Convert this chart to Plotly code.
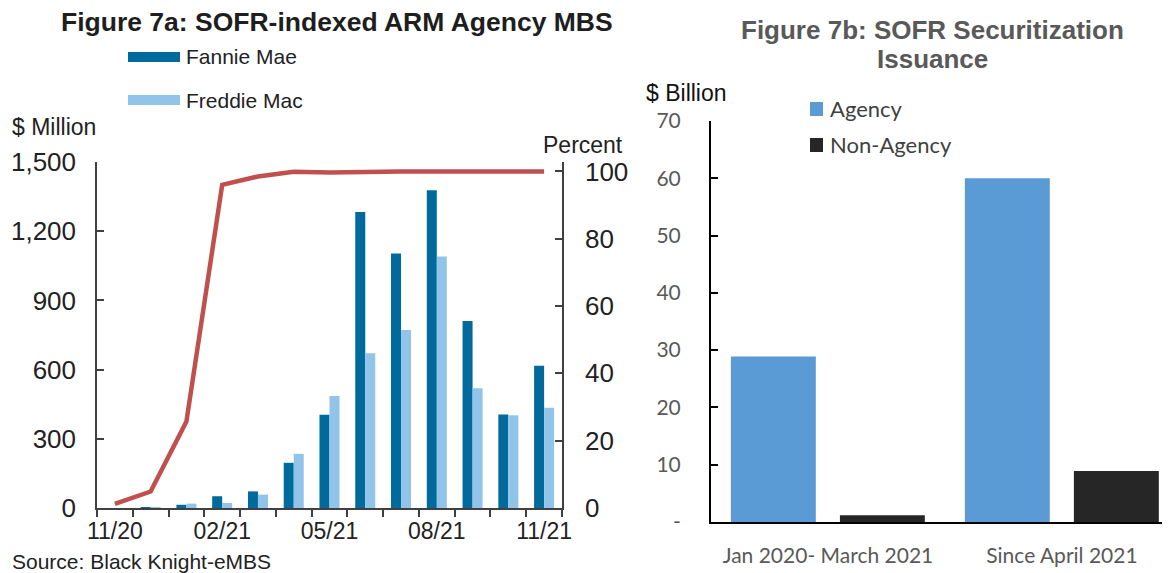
import plotly.graph_objects as go

# Figure 7a data
months = ["11/20", "12/20", "01/21", "02/21", "03/21", "04/21", "05/21",
          "06/21", "07/21", "08/21", "09/21", "10/21", "11/21"]
month_labels = ["11/20", "", "", "02/21", "", "", "05/21", "", "", "08/21", "", "", "11/21"]
fannie_mae = [0, 3, 14, 51, 72, 196, 404, 1283, 1103, 1378, 811, 405, 617]
freddie_mac = [0, 1, 19, 22, 58, 235, 486, 671, 772, 1090, 519, 402, 435]
sofr_share = [1.2, 4.9, 25.7, 96.0, 98.5, 99.9, 99.7, 100, 100, 100, 100, 100, 100]

# Figure 7b data
periods = ["Jan 2020- March 2021", "Since April 2021"]
agency = [28.9, 60.0]
non_agency = [1.2, 8.9]

W, H = 1170, 573
OFF = 8  # page body margin of the html page
ARIAL = "Liberation Sans, Arial, sans-serif"
CALIBRI = "Lato, Carlito, Calibri, sans-serif"

def px(x):
    return (x - OFF) / W

def py(y):
    return 1 - (y - OFF) / H

fig = go.Figure()

fig.add_trace(go.Bar(x=months, y=fannie_mae, name="Fannie Mae",
                     marker=dict(color="#006A9C", line_width=0), xaxis="x", yaxis="y"))
fig.add_trace(go.Bar(x=months, y=freddie_mac, name="Freddie Mac",
                     marker=dict(color="#92C4E9", line_width=0), xaxis="x", yaxis="y"))
fig.add_trace(go.Scatter(x=months, y=sofr_share, mode="lines", name="Percent",
                         line=dict(color="#C0504D", width=4.5), xaxis="x", yaxis="y2"))

fig.add_trace(go.Bar(x=periods, y=agency, name="Agency", width=0.363, offset=-0.415,
                     marker=dict(color="#5B9BD5", line_width=0), xaxis="x3", yaxis="y3"))
fig.add_trace(go.Bar(x=periods, y=non_agency, name="Non-Agency", width=0.363, offset=0.051,
                     marker=dict(color="#262626", line_width=0), xaxis="x3", yaxis="y3"))

axis_col = "#404040"
fig.update_layout(
    width=W, height=H,
    margin=dict(l=0, r=0, t=0, b=0, autoexpand=False),
    paper_bgcolor="white", plot_bgcolor="white",
    showlegend=False,
    barmode="group", bargap=0.44, bargroupgap=0,
    xaxis=dict(domain=[px(97), px(562)], anchor="y", type="category", automargin=False,
               tickvals=months, ticktext=month_labels, tickson="boundaries", tickangle=0,
               ticks="outside", ticklen=7, tickcolor=axis_col, tickwidth=1.5,
               showline=True, linecolor=axis_col, linewidth=1.5, showgrid=False,
               tickfont=dict(family=ARIAL, size=23, color="#222222"), ticklabelstandoff=2),
    yaxis=dict(domain=[py(508), py(162)], anchor="x", range=[0, 1500], automargin=False,
               tickvals=[0, 300, 600, 900, 1200, 1500], tickformat=",",
               ticks="inside", ticklen=7, tickcolor=axis_col, tickwidth=1.5,
               showline=True, linecolor=axis_col, linewidth=1.5,
               showgrid=False, zeroline=False, ticklabelstandoff=14,
               tickfont=dict(family=ARIAL, size=26, color="#222222")),
    yaxis2=dict(overlaying="y", side="right", anchor="x", range=[0, 102.8], automargin=False,
                tickvals=[0, 20, 40, 60, 80, 100],
                ticks="inside", ticklen=7, tickcolor=axis_col, tickwidth=1.5,
                showline=True, linecolor=axis_col, linewidth=1.5,
                showgrid=False, zeroline=False, ticklabelstandoff=16,
                tickfont=dict(family=ARIAL, size=26, color="#222222")),
    xaxis3=dict(domain=[px(711), 1.0], anchor="y3", type="category", range=[-0.5, 1.496],
                automargin=False, tickangle=0,
                ticks="", showline=True, linecolor="black", linewidth=2, showgrid=False,
                tickfont=dict(family=CALIBRI, size=21, color="#595959"), ticklabelstandoff=14),
    yaxis3=dict(domain=[py(522), py(121)], anchor="x3", range=[0, 70], automargin=False,
                tickvals=[0, 10, 20, 30, 40, 50, 60, 70],
                ticktext=["-", "10", "20", "30", "40", "50", "60", "70"],
                ticks="inside", ticklen=7, tickcolor="black", tickwidth=2,
                showline=True, linecolor="black", linewidth=2,
                showgrid=False, zeroline=False, ticklabelstandoff=24,
                tickfont=dict(family=CALIBRI, size=21, color="#595959")),
)

shapes = [
    dict(type="rect", xref="paper", yref="paper", x0=px(128), x1=px(180), y0=py(62), y1=py(52),
         fillcolor="#006A9C", line_width=0),
    dict(type="rect", xref="paper", yref="paper", x0=px(128), x1=px(180), y0=py(105), y1=py(95),
         fillcolor="#92C4E9", line_width=0),
    dict(type="rect", xref="paper", yref="paper", x0=px(810), x1=px(823), y0=py(116), y1=py(102),
         fillcolor="#5B9BD5", line_width=0),
    dict(type="rect", xref="paper", yref="paper", x0=px(810), x1=px(823), y0=py(152), y1=py(138),
         fillcolor="#262626", line_width=0),
]
fig.update_layout(shapes=shapes)

def note(text, x, y, size, color="#222222", family=ARIAL, xanchor="left", bold=False):
    if bold:
        text = "<b>" + text + "</b>"
    fig.add_annotation(text=text, x=px(x), y=py(y), xref="paper", yref="paper",
                       xanchor=xanchor, yanchor="middle", showarrow=False,
                       font=dict(family=family, size=size, color=color))

note("Figure 7a: SOFR-indexed ARM Agency MBS", 337, 22, 26.5, "#1E1E1E", xanchor="center", bold=True)
note("Fannie Mae", 184, 57, 21)
note("Freddie Mac", 184, 100, 21)
note("$ Million", 10, 127, 23)
note("Percent", 625, 145, 23, xanchor="right")
note("Source: Black Knight-eMBS", 10, 561, 21)

note("Figure 7b: SOFR Securitization", 932, 30, 26, "#595959", xanchor="center", bold=True)
note("Issuance", 932, 59, 26, "#595959", xanchor="center", bold=True)
note("$ Billion", 644, 93, 23, "#111111")
note("Agency", 828, 109, 22, "#404040", family=CALIBRI)
note("Non-Agency", 828, 145, 22, "#404040", family=CALIBRI)

fig.write_html("out.html")
